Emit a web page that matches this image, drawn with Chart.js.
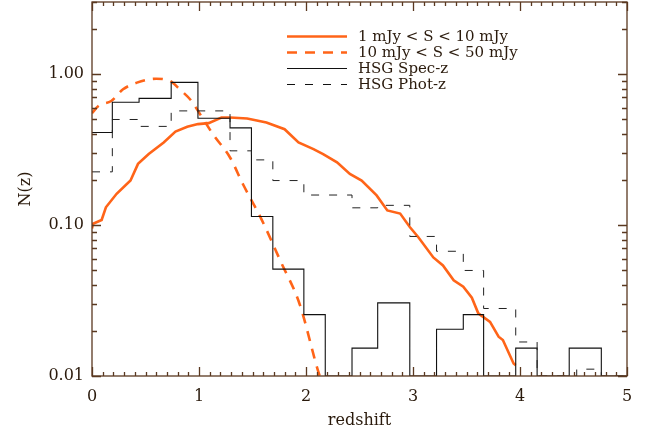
<!DOCTYPE html>
<html>
<head>
<meta charset="utf-8">
<script src="https://cdn.jsdelivr.net/npm/chart.js@4"></script>
<style>
  html, body { margin: 0; padding: 0; background: #fff; }
  #wrap { width: 647px; height: 434px; }
</style>
</head>
<body>
<div id="wrap"><canvas id="nz"></canvas></div>
<script>
// 1 mJy < S < 10 mJy model curve
const faintZ = [0, 0.01, 0.09, 0.13, 0.23, 0.36, 0.43, 0.53, 0.67, 0.78, 0.89, 0.99, 1.09, 1.21, 1.29, 1.45, 1.63, 1.80, 1.93, 2.07, 2.16, 2.29, 2.41, 2.52, 2.66, 2.76, 2.88, 2.97, 3.05, 3.19, 3.28, 3.38, 3.47, 3.55, 3.61, 3.72, 3.80, 3.84, 3.94, 3.96];
const faintN = [0.095, 0.102, 0.108, 0.131, 0.161, 0.197, 0.254, 0.295, 0.352, 0.416, 0.447, 0.466, 0.473, 0.515, 0.515, 0.507, 0.477, 0.431, 0.352, 0.318, 0.295, 0.26, 0.218, 0.197, 0.157, 0.125, 0.119, 0.097, 0.083, 0.061, 0.054, 0.043, 0.039, 0.033, 0.026, 0.0228, 0.0182, 0.0173, 0.0121, 0.0118];

// 10 mJy < S < 50 mJy model curve
const brightZ = [0, 0.06, 0.18, 0.29, 0.42, 0.6, 0.73, 0.82, 0.93, 1.01, 1.13, 1.29, 1.41, 1.59, 1.76, 1.94, 2.12, 2.14];
const brightN = [0.55, 0.615, 0.663, 0.792, 0.877, 0.931, 0.899, 0.792, 0.663, 0.542, 0.4, 0.28, 0.187, 0.107, 0.058, 0.03, 0.0104, 0.0095];

// HSG histograms: left bin edges and values (0.01 = empty bin, on the axis)
const specEdges = [0, 0.19, 0.44, 0.74, 0.99, 1.29, 1.49, 1.69, 1.98, 2.18, 2.43, 2.67, 2.97, 3.22, 3.47, 3.66, 3.96, 4.16, 4.46, 4.76, 5];
const specN = [0.41, 0.65, 0.69, 0.88, 0.51, 0.44, 0.114, 0.051, 0.0255, 0.01, 0.0153, 0.0305, 0.01, 0.0204, 0.0255, 0.01, 0.0153, 0.01, 0.0153, 0.01, 0.01];
const photEdges = [0, 0.19, 0.44, 0.74, 1.29, 1.49, 1.69, 1.98, 2.43, 2.67, 2.97, 3.22, 3.47, 3.66, 3.96, 4.16, 4.53, 4.76, 5];
const photN = [0.225, 0.5, 0.45, 0.57, 0.31, 0.27, 0.197, 0.158, 0.13, 0.135, 0.084, 0.067, 0.05, 0.028, 0.0168, 0.01, 0.0111, 0.01, 0.01];

const xTicks = [0, 1, 2, 3, 4, 5];
const yTicks = [0.01, 0.1, 1];
const seriesNames = ['1 mJy < S < 10 mJy', '10 mJy < S < 50 mJy', 'HSG Spec-z', 'HSG Phot-z'];

const ORANGE = '#ff6418';
const AXIS = '#5a3820';
const TEXT = '#2a1a0c';
const FONT = '"DejaVu Serif", serif';

const pts = (xs, ys) => xs.map((x, i) => ({ x, y: ys[i] }));

// inside ticks on all four sides plus the frame
const frame = {
  id: 'frame',
  afterDatasetsDraw(chart) {
    const { ctx, chartArea: a, scales } = chart;
    const xs = scales.x, ys = scales.y;
    ctx.save();
    ctx.strokeStyle = AXIS;
    ctx.lineWidth = 1.3;
    ctx.strokeRect(a.left, a.top, a.right - a.left, a.bottom - a.top);
    ctx.beginPath();
    for (let i = 0; i <= 50; i++) {
      const v = i / 10;
      const px = Math.round(xs.getPixelForValue(v)) + 0.5;
      const len = i % 10 === 0 ? 9 : 4;
      ctx.moveTo(px, a.bottom); ctx.lineTo(px, a.bottom - len);
      ctx.moveTo(px, a.top); ctx.lineTo(px, a.top + len);
    }
    for (let d = -2; d <= 0; d++) {
      for (let m = 1; m <= 9; m++) {
        const v = m * Math.pow(10, d);
        if (v > ys.max) continue;
        const py = Math.round(ys.getPixelForValue(v)) + 0.5;
        const len = m === 1 ? 9 : 5;
        ctx.moveTo(a.left, py); ctx.lineTo(a.left + len, py);
        ctx.moveTo(a.right, py); ctx.lineTo(a.right - len, py);
      }
    }
    ctx.stroke();

    // legend
    const lx0 = 287, lx1 = 347, tx = 358;
    const rows = [36, 52, 68, 84];
    const styles = [
      { c: ORANGE, w: 2.6, d: [] },
      { c: ORANGE, w: 2.6, d: [10, 8] },
      { c: '#111', w: 1, d: [] },
      { c: '#111', w: 1, d: [8, 10] }
    ];
    ctx.font = '15px ' + FONT;
    ctx.textBaseline = 'middle';
    ctx.fillStyle = TEXT;
    rows.forEach((y, i) => {
      const s = styles[i];
      ctx.beginPath();
      ctx.strokeStyle = s.c;
      ctx.lineWidth = s.w;
      ctx.setLineDash(s.d);
      ctx.moveTo(lx0, y + 0.5); ctx.lineTo(lx1, y + 0.5);
      ctx.stroke();
      ctx.setLineDash([]);
      ctx.fillText(seriesNames[i], tx, y + 1);
    });
    ctx.restore();
  }
};

new Chart(document.getElementById('nz').getContext('2d'), {
  type: 'line',
  data: {
    datasets: [
      { label: seriesNames[3], data: pts(photEdges, photN), stepped: 'before', borderColor: '#222', borderWidth: 1, borderDash: [8, 10], pointRadius: 0, fill: false },
      { label: seriesNames[2], data: pts(specEdges, specN), stepped: 'before', borderColor: '#111', borderWidth: 1.1, pointRadius: 0, fill: false },
      { label: seriesNames[1], data: pts(brightZ, brightN), borderColor: ORANGE, borderWidth: 2.6, borderDash: [10, 8], pointRadius: 0, tension: 0.3, cubicInterpolationMode: 'monotone', fill: false },
      { label: seriesNames[0], data: pts(faintZ, faintN), borderColor: ORANGE, borderWidth: 2.6, pointRadius: 0, tension: 0, fill: false }
    ]
  },
  options: {
    responsive: true,
    maintainAspectRatio: false,
    animation: false,
    layout: { padding: { top: 2, right: 20, left: 0, bottom: 0 } },
    plugins: { legend: { display: false }, tooltip: { enabled: false } },
    scales: {
      x: {
        type: 'linear', min: 0, max: 5,
        afterBuildTicks: s => { s.ticks = xTicks.map(v => ({ value: v })); },
        afterFit: s => { s.height = 58; s.paddingLeft = 0; s.paddingRight = 0; },
        grid: { display: false, drawTicks: false },
        border: { display: false },
        ticks: { color: TEXT, font: { family: FONT, size: 16 }, padding: 11, maxRotation: 0, callback: v => String(v) },
        title: { display: true, text: 'redshift', color: TEXT, font: { family: FONT, size: 16 }, padding: { top: 2 } }
      },
      y: {
        type: 'logarithmic', min: 0.01, max: 3,
        afterBuildTicks: s => { s.ticks = yTicks.map(v => ({ value: v })); },
        afterFit: s => { s.width = 92; s.paddingTop = 0; s.paddingBottom = 0; },
        grid: { display: false, drawTicks: false },
        border: { display: false },
        ticks: { color: TEXT, font: { family: FONT, size: 16 }, padding: 8, callback: v => Number(v).toFixed(2) },
        title: { display: true, text: 'N(z)', color: TEXT, font: { family: FONT, size: 16 }, padding: { top: 16, bottom: 0 } }
      }
    }
  },
  plugins: [frame]
});
</script>
</body>
</html>
